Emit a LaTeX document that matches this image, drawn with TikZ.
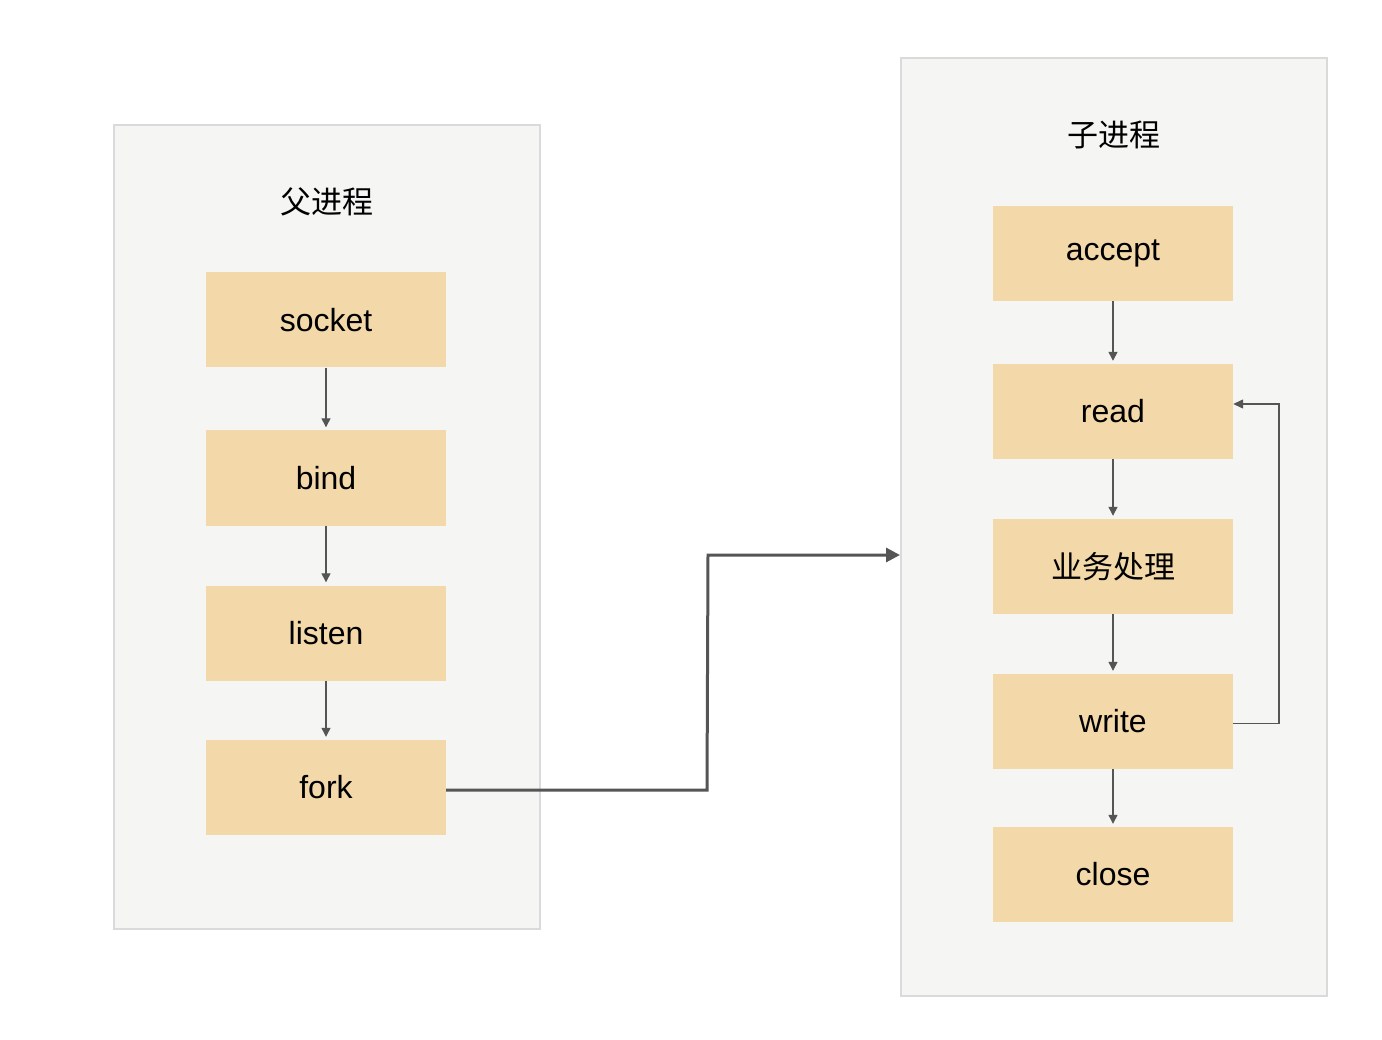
\documentclass[tikz,border=0pt]{standalone}
\usepackage{fontspec}
\setmainfont{Liberation Sans}
\newfontfamily\cjk{Noto Sans CJK SC}
\usetikzlibrary{arrows.meta}
\definecolor{panelfill}{HTML}{F5F5F3}
\definecolor{panelline}{HTML}{DADADA}
\definecolor{boxfill}{HTML}{F3D9A9}
\definecolor{arrowcol}{HTML}{555555}
\begin{document}
\begin{tikzpicture}[x=1pt,y=-1pt,
  panel/.style={draw=panelline,fill=panelfill,line width=1.5pt},
  stepbox/.style={fill=boxfill,minimum width=240pt,minimum height=95pt,inner sep=0pt,font=\fontsize{32}{36}\selectfont},
  titletext/.style={font=\cjk\fontsize{31}{36}\selectfont},
  thinarrow/.style={draw=arrowcol,line width=1.3pt,-{Triangle[length=9pt,width=9pt]},shorten >=3pt},
  thickarrow/.style={draw=arrowcol,line width=3pt,-{Triangle[length=14pt,width=14pt]}}
]
\useasboundingbox (0,0) rectangle (1382,1040);
\fill[white] (0,0) rectangle (1382,1040);
% panels
\draw[panel] (114,125) rectangle (540,929);
\draw[panel] (901,58) rectangle (1327,996);
\node[titletext] (t1) at (327,202) {父进程};
\node[titletext] (t2) at (1114,135) {子进程};
% left boxes
\node[stepbox] (socket) at (326,320) {socket};
\node[stepbox] (bind) at (326,478) {bind};
\node[stepbox] (listen) at (326,633) {listen};
\node[stepbox] (fork) at (326,787.5) {fork};
% right boxes
\node[stepbox] (accept) at (1113,253.5) {accept};
\node[stepbox] (read) at (1113,411.5) {read};
\node[stepbox,font=\cjk\fontsize{31}{36}\selectfont] (biz) at (1113,566.5) {业务处理};
\node[stepbox] (write) at (1113,721.5) {write};
\node[stepbox] (close) at (1113,874.5) {close};
\coordinate (rightin) at (900,555);
\coordinate (loopa) at (1279,723.5);
\coordinate (loopb) at (1279,404);
% arrows
\draw[thinarrow] (socket) -- (bind);
\draw[thinarrow] (bind) -- (listen);
\draw[thinarrow] (listen) -- (fork);
\draw[thinarrow] (accept) -- (read);
\draw[thinarrow] (read) -- (biz);
\draw[thinarrow] (biz) -- (write);
\draw[thinarrow] (write) -- (close);
\draw[draw=arrowcol,line width=1.3pt,-{Triangle[length=10pt,width=9pt]}] (write.east |- loopa) -- (loopa) -- (loopb) -- (read.east |- loopb);
\draw[thickarrow] (fork.east) ++(0,2.5) -- (707,790) -- (708,555) -- (rightin);
\end{tikzpicture}
\end{document}
